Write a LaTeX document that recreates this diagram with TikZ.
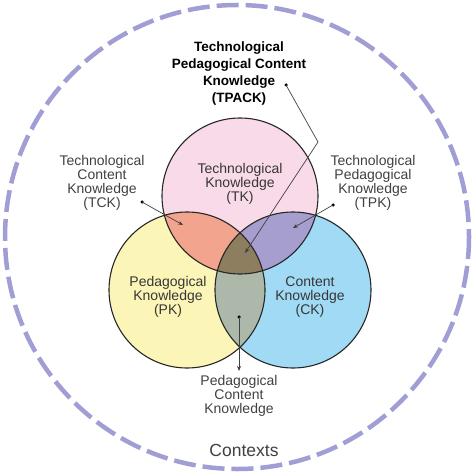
\documentclass[tikz,border=0pt]{standalone}
\usepackage{fontspec}
\setmainfont{Liberation Sans}
\usetikzlibrary{arrows.meta}
\definecolor{tkfill}{RGB}{249,218,232}
\definecolor{pkfill}{RGB}{252,245,184}
\definecolor{ckfill}{RGB}{160,218,245}
\definecolor{tpfill}{RGB}{242,164,142}
\definecolor{tcfill}{RGB}{166,158,206}
\definecolor{pcfill}{RGB}{172,184,170}
\definecolor{allfill}{RGB}{142,126,96}
\definecolor{ringcol}{RGB}{160,158,212}
\definecolor{labcol}{RGB}{64,64,64}
\tikzset{
  lab/.style={align=center, font=\fontsize{14}{14}\selectfont, text=labcol, inner sep=0pt},
  circlab/.style={align=center, font=\fontsize{14}{14}\selectfont, text=labcol!85!black, inner sep=0pt},
  toplab/.style={align=center, font=\fontsize{13.5}{17}\selectfont\bfseries, text=black, inner sep=0pt},
  ctxlab/.style={font=\fontsize{17.5}{20}\selectfont, text=labcol, inner sep=0pt},
  pointer/.style={line width=0.7pt, draw=labcol, -{Stealth[length=5pt,width=4pt]}},
  dotpt/.style={circle, fill=black, inner sep=0pt, minimum size=3.5pt},
  venn/.style={line width=1.1pt, draw=black!85}
}
\begin{document}
\begin{tikzpicture}[x=1pt,y=-1pt]
\useasboundingbox (0,0) rectangle (474,476);
% outer context ring
\draw[ringcol, line width=4.5pt, dash pattern=on 22pt off 7pt] (237,237) circle[radius=232];
\coordinate (tkc) at (240,196);
\coordinate (pkc) at (187,290);
\coordinate (ckc) at (293,290);
\def\rr{78}
% base fills
\fill[tkfill] (tkc) circle[radius=\rr];
\fill[pkfill] (pkc) circle[radius=\rr];
\fill[ckfill] (ckc) circle[radius=\rr];
% pairwise intersections
\begin{scope}
  \clip (tkc) circle[radius=\rr];
  \fill[tpfill] (pkc) circle[radius=\rr];
  \fill[tcfill] (ckc) circle[radius=\rr];
\end{scope}
\begin{scope}
  \clip (pkc) circle[radius=\rr];
  \fill[pcfill] (ckc) circle[radius=\rr];
\end{scope}
\begin{scope}
  \clip (tkc) circle[radius=\rr];
  \clip (pkc) circle[radius=\rr];
  \fill[allfill] (ckc) circle[radius=\rr];
\end{scope}
% outlines
\draw[venn] (tkc) circle[radius=\rr];
\draw[venn] (pkc) circle[radius=\rr];
\draw[venn] (ckc) circle[radius=\rr];
% circle labels
\node[circlab] (tk) at (240,184) {Technological\\Knowledge\\(TK)};
\node[circlab] (pk) at (168,297) {Pedagogical\\Knowledge\\(PK)};
\node[circlab] (ck) at (310,297) {Content\\Knowledge\\(CK)};
% outer labels
\node[toplab] (tpack) at (239,74) {Technological\\Pedagogical Content\\Knowledge\\(TPACK)};
\node[lab] (tck) at (102,183) {Technological\\Content\\Knowledge\\(TCK)};
\node[lab] (tpk) at (373,183) {Technological\\Pedagogical\\Knowledge\\(TPK)};
\node[lab] (pck) at (239,396) {Pedagogical\\Content\\Knowledge};
\node[ctxlab] (ctx) at (244,450) {Contexts};
% pointer dots and targets
\node[dotpt] (dtpack) at (286,85) {};
\coordinate (bend) at (318,142);
\coordinate (ttpack) at (245,253);
\node[dotpt] (dtck) at (142,202) {};
\coordinate (ttck) at (183,225);
\node[dotpt] (dtpk) at (333,205) {};
\coordinate (ttpk) at (293,228);
\node[dotpt] (dpck) at (239,317) {};
\coordinate (tpck) at (239,371);
% pointers
\draw[pointer] (dtpack.center) -- (bend) -- (ttpack);
\draw[pointer] (dtck.center) -- (ttck);
\draw[pointer] (dtpk.center) -- (ttpk);
\draw[pointer] (dpck.center) -- (tpck);
\end{tikzpicture}
\end{document}
